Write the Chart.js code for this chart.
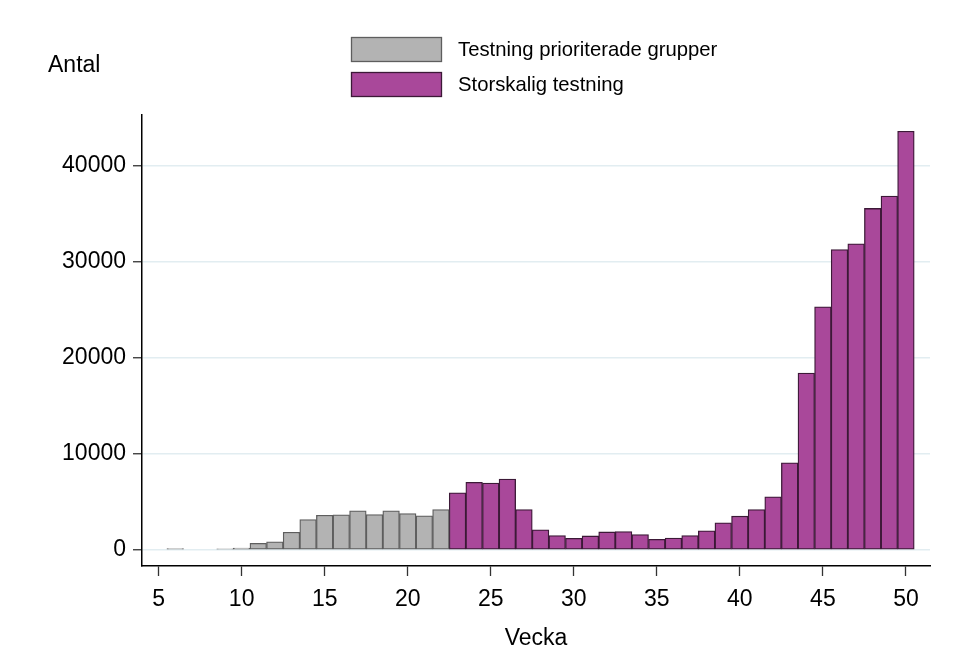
<!DOCTYPE html>
<html>
<head>
<meta charset="utf-8">
<script src="https://cdn.jsdelivr.net/npm/chart.js@4/dist/chart.umd.min.js"></script>
<style>
  html, body { margin: 0; padding: 0; background: #fff; }
  #wrap { width: 978px; height: 657px; }
</style>
</head>
<body>
<div id="wrap"><canvas id="chart" width="978" height="657"></canvas></div>
<script>
// Weeks on the x axis (one bar per week)
const weeks = [6, 7, 8, 9, 10, 11, 12, 13, 14, 15, 16, 17, 18, 19, 20, 21, 22,
  23, 24, 25, 26, 27, 28, 29, 30, 31, 32, 33, 34, 35, 36, 37, 38, 39, 40,
  41, 42, 43, 44, 45, 46, 47, 48, 49, 50];

// Testning prioriterade grupper, weeks 6-22
const prioritised = [150, null, null, 120, 200, 700, 840, 1850, 3170, 3620, 3660, 4080, 3690, 4080, 3800, 3550, 4220];

// Storskalig testning, weeks 23-50
const largeScale = [5960, 7040, 6970, 7390, 4220, 2090, 1500, 1220, 1460, 1880, 1920, 1600, 1115, 1250,
  1500, 1990, 2820, 3520, 4220, 5540, 9080, 18430, 25320, 31300, 31900, 35580, 36870, 43620];

const xTicks = [5, 10, 15, 20, 25, 30, 35, 40, 45, 50];
const yTicks = [0, 10000, 20000, 30000, 40000];

const FONT = '"Liberation Sans", Arial, sans-serif';

// points for the linear x axis
const grayPoints = prioritised.map((v, i) => ({ x: weeks[i], y: v }));
const purplePoints = largeScale.map((v, i) => ({ x: weeks[i + prioritised.length], y: v }));

// Draws "Antal" and the two-row legend at the top
const topTexts = {
  id: 'topTexts',
  afterDraw(chart) {
    const ctx = chart.ctx;
    ctx.save();
    ctx.fillStyle = '#000';
    ctx.font = '23px ' + FONT;
    ctx.textBaseline = 'alphabetic';
    ctx.fillText('Antal', 48, 72);

    chart.data.datasets.forEach((ds, i) => {
      const y = 37 + i * 35;
      ctx.fillStyle = ds.backgroundColor;
      ctx.fillRect(351, y, 91, 25);
      ctx.strokeStyle = ds.borderColor;
      ctx.lineWidth = 1.3;
      ctx.strokeRect(351.5, y + 0.5, 90, 24);
      ctx.fillStyle = '#000';
      ctx.font = '20.3px ' + FONT;
      ctx.textBaseline = 'middle';
      ctx.fillText(ds.label, 458, y + 13);
    });
    ctx.restore();
  }
};

const ctx = document.getElementById('chart').getContext('2d');

const myChart = new Chart(ctx, {
  type: 'bar',
  data: {
    datasets: [{
      label: 'Testning prioriterade grupper',
      data: grayPoints,
      backgroundColor: '#b3b3b3',
      borderColor: '#5e5e5e',
      borderWidth: 1.3,
      borderSkipped: false,
      grouped: false,
      barPercentage: 1,
      categoryPercentage: 1
    }, {
      label: 'Storskalig testning',
      data: purplePoints,
      backgroundColor: '#a9489a',
      borderColor: '#3c1937',
      borderWidth: 1.3,
      borderSkipped: false,
      grouped: false,
      barPercentage: 1,
      categoryPercentage: 1
    }]
  },
  options: {
    responsive: false,
    animation: false,
    layout: { padding: { top: 115, right: 48, left: 0, bottom: 0 } },
    plugins: {
      legend: { display: false },
      tooltip: { enabled: false }
    },
    scales: {
      x: {
        type: 'linear',
        offset: false,
        min: 4.0,
        max: 51.45,
        afterFit: (scale) => { scale.height = 91; },
        afterBuildTicks: (scale) => { scale.ticks = xTicks.map(v => ({ value: v })); },
        grid: {
          offset: false,
          drawOnChartArea: false,
          tickLength: 10,
          tickColor: '#333',
          tickWidth: 1.3
        },
        border: { display: true, color: '#000', width: 1.5 },
        ticks: {
          color: '#000',
          font: { family: FONT, size: 23 },
          padding: 10,
          maxRotation: 0,
          callback: (v) => String(v)
        },
        title: {
          display: true,
          text: 'Vecka',
          color: '#000',
          font: { family: FONT, size: 23 },
          padding: { top: 0, bottom: 5 }
        }
      },
      y: {
        min: -1670,
        max: 45310,
        afterFit: (scale) => { scale.width = 142; },
        afterBuildTicks: (scale) => { scale.ticks = yTicks.map(v => ({ value: v })); },
        grid: {
          color: '#e2edf1',
          lineWidth: 1.5,
          tickLength: 9,
          tickColor: '#333',
          tickWidth: 1.3
        },
        border: { display: true, color: '#000', width: 1.5 },
        ticks: {
          color: '#000',
          font: { family: FONT, size: 23 },
          padding: 7,
          callback: (v) => String(v)
        }
      }
    }
  },
  plugins: [topTexts]
});
</script>
</body>
</html>
